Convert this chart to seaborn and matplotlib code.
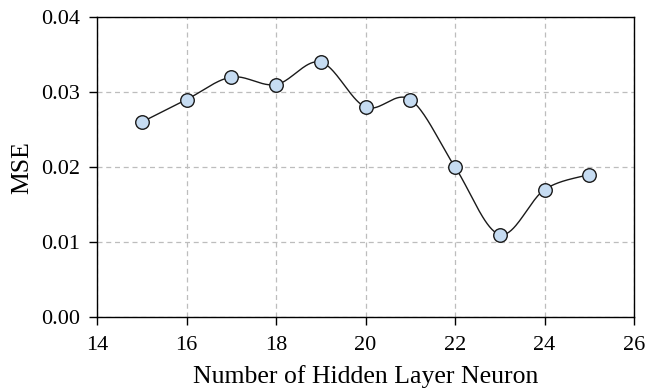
import numpy as np
import pandas as pd
import matplotlib
matplotlib.use("Agg")
import matplotlib.pyplot as plt
import seaborn as sns

neurons = [15, 16, 17, 18, 19, 20, 21, 22, 23, 24, 25]
mse = [0.026, 0.029, 0.032, 0.031, 0.034, 0.028, 0.029, 0.020, 0.011, 0.017, 0.019]
xticks = [14, 16, 18, 20, 22, 24, 26]
yticks = [0.00, 0.01, 0.02, 0.03, 0.04]

sns.set_style("white")
plt.rcParams['font.family'] = ['Liberation Serif', 'DejaVu Serif']
plt.rcParams['text.color'] = 'black'
plt.rcParams['axes.labelcolor'] = 'black'

fig = plt.figure(figsize=(6.49, 3.89), dpi=100)
ax = fig.add_axes([0.1495, 0.185, 0.8275, 0.771])

# Smooth (Catmull-Rom style) curve through the data points, like a spreadsheet smoothed line
xs = np.array(neurons, dtype=float)
ys = np.array(mse, dtype=float)
P = np.column_stack([xs, ys])
Pe = np.vstack([P[0], P, P[-1]])
curve = []
t = np.linspace(0, 1, 40)
for i in range(1, len(Pe) - 2):
    p0, p1, p2, p3 = Pe[i - 1], Pe[i], Pe[i + 1], Pe[i + 2]
    c1 = p1 + (p2 - p0) / 6.0
    c2 = p2 - (p3 - p1) / 6.0
    seg = ((1 - t) ** 3)[:, None] * p1 + (3 * (1 - t) ** 2 * t)[:, None] * c1 \
        + (3 * (1 - t) * t ** 2)[:, None] * c2 + (t ** 3)[:, None] * p2
    curve.append(seg if i == 1 else seg[1:])
curve = np.vstack(curve)
df_curve = pd.DataFrame({"x": curve[:, 0], "y": curve[:, 1]})
df_pts = pd.DataFrame({"x": xs, "y": ys})

sns.lineplot(data=df_curve, x="x", y="y", ax=ax, color="#1a1a1a", linewidth=1.0,
             sort=False, estimator=None, zorder=3)
sns.scatterplot(data=df_pts, x="x", y="y", ax=ax, s=95, color="#c6dcf2",
                edgecolor="#1a1a1a", linewidth=1.0, zorder=4)

ax.set_xlim(14, 26)
ax.set_ylim(0, 0.04)
ax.set_xticks(xticks)
ax.set_yticks(yticks)
ax.set_yticklabels([f"{v:.2f}" for v in yticks])
ax.grid(True, linestyle=(0, (4, 3)), color="#bdbdbd", linewidth=0.9)
ax.set_axisbelow(True)
for s in ax.spines.values():
    s.set_color("black")
    s.set_linewidth(1.0)
ax.tick_params(axis="both", which="major", direction="out", length=6, width=1.0,
               labelsize=16, color="black", labelcolor="black", bottom=True, left=True,
               top=False, right=False, pad=6)
ax.tick_params(axis="x", pad=8)
ax.set_xlabel("Number of Hidden Layer Neuron", fontsize=18.5, labelpad=7, color="black")
ax.set_ylabel("MSE", fontsize=18.5, labelpad=6, color="black")

fig.savefig("out.png", dpi=100)
